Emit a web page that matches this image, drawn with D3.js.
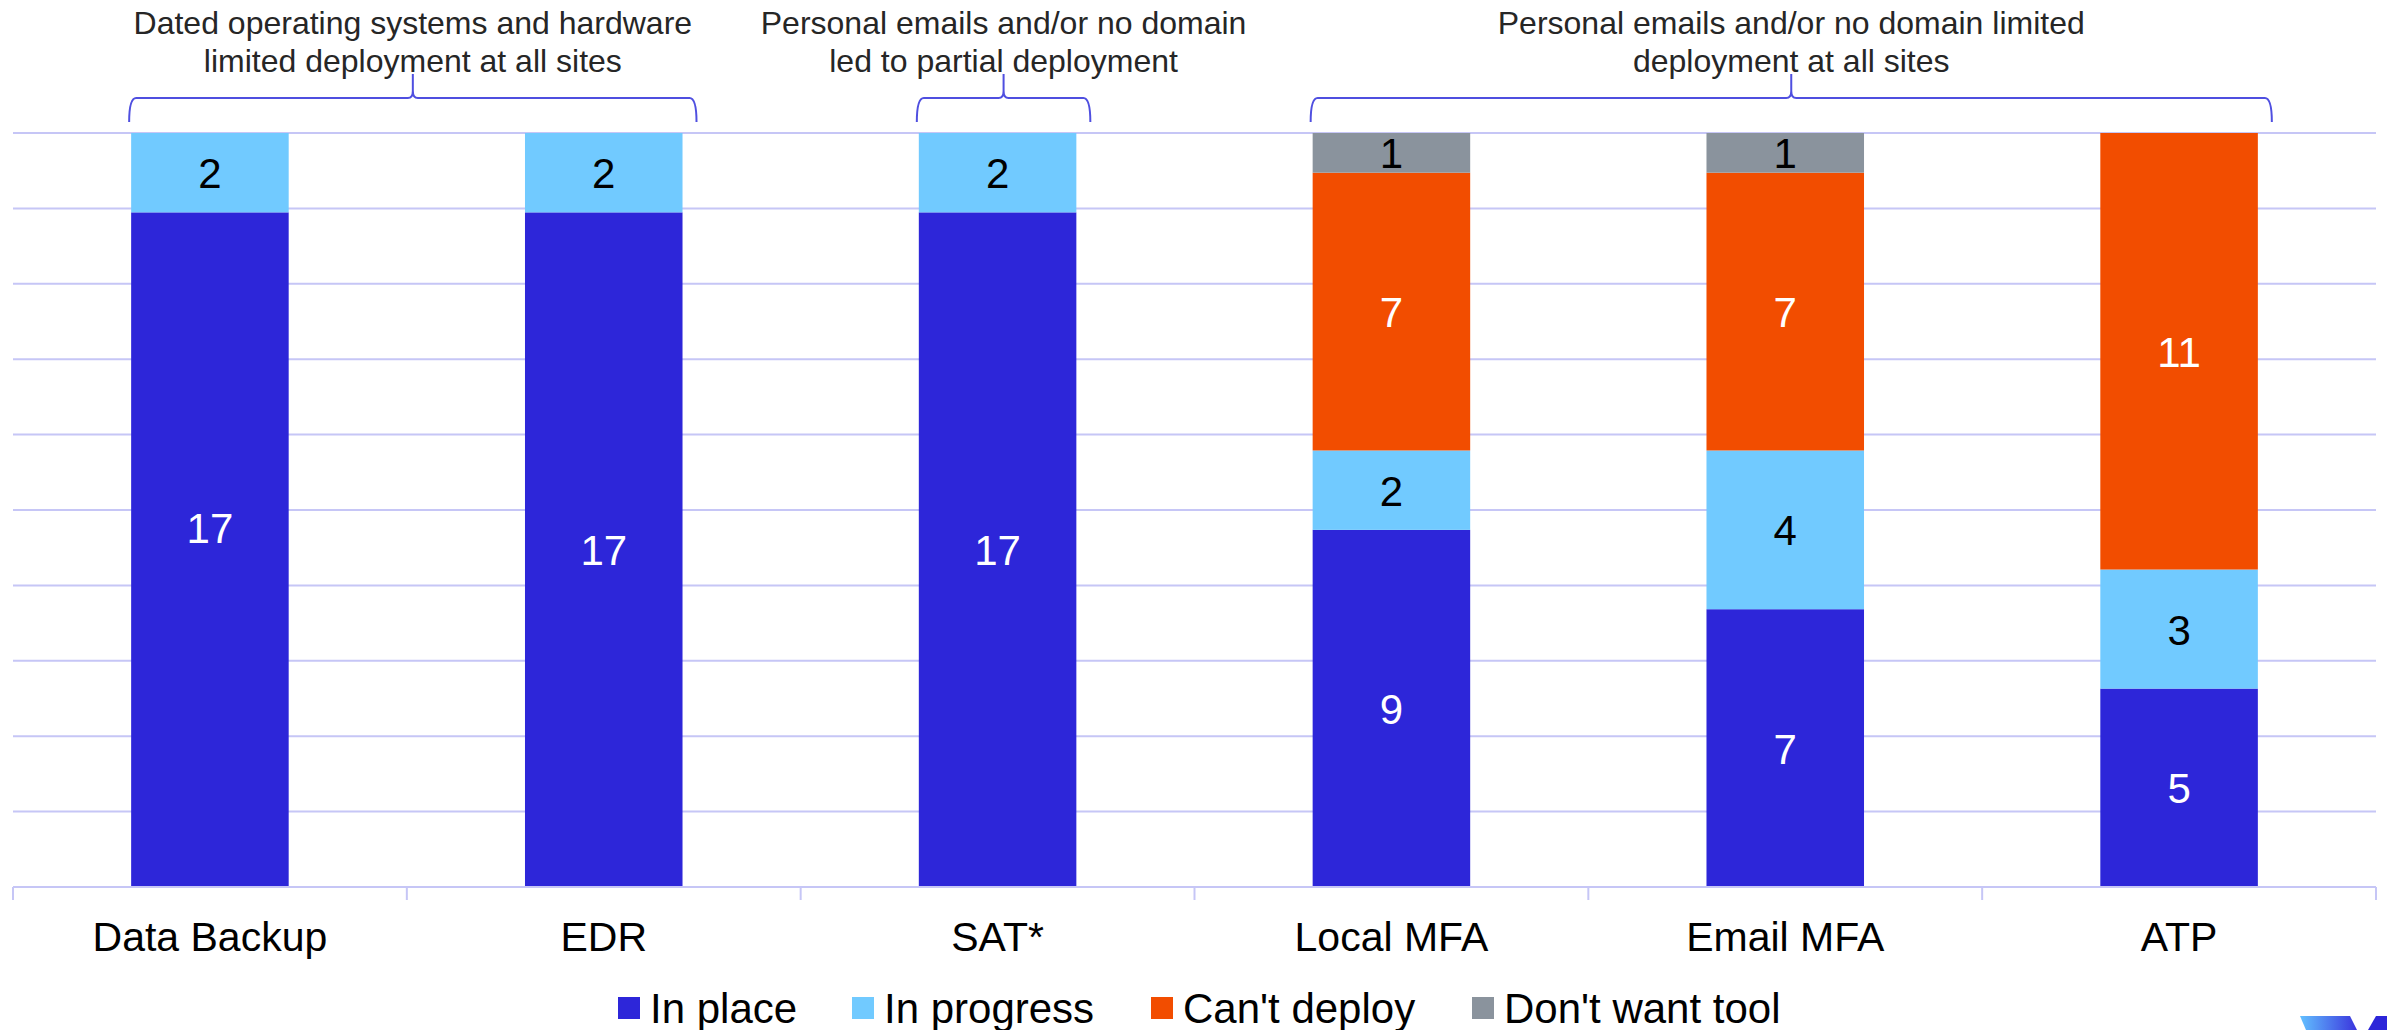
<!DOCTYPE html>
<html>
<head>
<meta charset="utf-8">
<style>
  body { margin: 0; background: #fff; }
  text { font-family: "Liberation Sans", Arial, sans-serif; }
  .grid line { stroke: #c6c6f6; stroke-width: 2px; }
  .note { font-size: 32px; fill: #262626; text-anchor: middle; }
  .cat { font-size: 41px; fill: #000; text-anchor: middle; }
  .val { font-size: 42px; text-anchor: middle; dominant-baseline: central; }
  .leg { font-size: 42px; fill: #000; }
</style>
</head>
<body>
<svg width="2387" height="1030"></svg>
<script src="https://cdn.jsdelivr.net/npm/d3@7"></script>
<script>
// data
var categories = ["Data Backup", "EDR", "SAT*", "Local MFA", "Email MFA", "ATP"];
var series = ["In place", "In progress", "Can't deploy", "Don't want tool"];
var inPlace    = [17, 17, 17, 9, 7, 5];
var inProgress = [2, 2, 2, 2, 4, 3];
var cantDeploy = [0, 0, 0, 7, 7, 11];
var dontWant   = [0, 0, 0, 1, 1, 0];
var colors = ["#2d26d9", "#71caff", "#f24d00", "#8a939d"];
var labelColors = ["#fff", "#000", "#fff", "#000"];

var notes = [
    {from: "Data Backup", to: "EDR", lines: ["Dated operating systems and hardware", "limited deployment at all sites"]},
    {from: "SAT*", to: "SAT*", lines: ["Personal emails and/or no domain", "led to partial deployment"]},
    {from: "Local MFA", to: "ATP", lines: ["Personal emails and/or no domain limited", "deployment at all sites"]}
];

var svg = d3.select("svg"),
    plotL = 13, plotR = 2376, plotT = 133, plotB = 887;

var rows = categories.map(function(c, i) {
    return {cat: c, "In place": inPlace[i], "In progress": inProgress[i],
            "Can't deploy": cantDeploy[i], "Don't want tool": dontWant[i]};
});
var total = d3.max(rows, function(r) { return d3.sum(series, function(s) { return r[s]; }); });

var x = d3.scaleBand().domain(categories).range([plotL, plotR]).paddingInner(0).paddingOuter(0);
var barW = x.bandwidth() * 0.4;
var y = d3.scaleLinear().domain([0, total]).range([plotB, plotT]);

// gridlines, 10 steps
var gridVals = d3.range(1, 11).map(function(i) { return total * i / 10; });
svg.append("g").attr("class", "grid")
    .selectAll("line").data(gridVals).enter().append("line")
    .attr("x1", plotL).attr("x2", plotR)
    .attr("y1", function(d) { return y(d); }).attr("y2", function(d) { return y(d); });

var stack = d3.stack().keys(series)(rows);

stack.forEach(function(s, k) {
    svg.append("g").selectAll("rect").data(s).enter().append("rect")
        .attr("x", function(d) { return x(d.data.cat) + (x.bandwidth() - barW) / 2; })
        .attr("width", barW)
        .attr("y", function(d) { return y(d[1]); })
        .attr("height", function(d) { return y(d[0]) - y(d[1]); })
        .attr("fill", colors[k]);
});

// the first bar's big label sits a bit higher in the original
function nudge(d, k) { return (k === 0 && d.data.cat === "Data Backup") ? -22 : 0; }

stack.forEach(function(s, k) {
    svg.append("g").selectAll("text").data(s.filter(function(d) { return d[1] - d[0] > 0; }))
        .enter().append("text").attr("class", "val")
        .attr("x", function(d) { return x(d.data.cat) + x.bandwidth() / 2; })
        .attr("y", function(d) { return (y(d[0]) + y(d[1])) / 2 + 1 + nudge(d, k); })
        .attr("fill", labelColors[k])
        .text(function(d) { return d[1] - d[0]; });
});

// x axis
var xAxis = svg.append("g").attr("transform", "translate(0," + plotB + ")");
xAxis.append("line").attr("x1", plotL).attr("x2", plotR)
    .attr("stroke", "#c6c6f6").attr("stroke-width", 2);
xAxis.selectAll("line.tick").data(categories.concat([null])).enter().append("line")
    .attr("class", "tick")
    .attr("x1", function(d, i) { return plotL + i * x.bandwidth(); })
    .attr("x2", function(d, i) { return plotL + i * x.bandwidth(); })
    .attr("y1", 0).attr("y2", 13)
    .attr("stroke", "#c6c6f6").attr("stroke-width", 2);
xAxis.selectAll("text").data(categories).enter().append("text")
    .attr("class", "cat")
    .attr("x", function(d) { return x(d) + x.bandwidth() / 2; })
    .attr("y", 64)
    .text(function(d) { return d; });

// braces + notes
var braceY = 98, braceEnd = 122, braceTip = 74;
notes.forEach(function(n) {
    var x0 = x(n.from) + (x.bandwidth() - barW) / 2 - 2,
        x1 = x(n.to) + (x.bandwidth() + barW) / 2 + 14,
        xm = (x0 + x1) / 2;
    var p = "M" + x0 + "," + braceEnd +
        " Q" + x0 + "," + braceY + " " + (x0 + 7) + "," + braceY +
        " H" + (xm - 5) +
        " Q" + xm + "," + braceY + " " + xm + "," + (braceY - 7) +
        " V" + braceTip +
        " M" + xm + "," + (braceY - 7) +
        " Q" + xm + "," + braceY + " " + (xm + 5) + "," + braceY +
        " H" + (x1 - 7) +
        " Q" + x1 + "," + braceY + " " + x1 + "," + braceEnd;
    svg.append("path").attr("d", p).attr("fill", "none")
        .attr("stroke", "#4f4fe0").attr("stroke-width", 2);
    n.lines.forEach(function(l, i) {
        svg.append("text").attr("class", "note")
            .attr("x", xm).attr("y", 34 + i * 38).text(l);
    });
});

// legend
var legX = [618, 852, 1151, 1472];
var leg = svg.append("g").selectAll("g").data(series).enter().append("g")
    .attr("transform", function(d, i) { return "translate(" + legX[i] + ",997)"; });
leg.append("rect").attr("width", 22).attr("height", 22)
    .attr("fill", function(d, i) { return colors[i]; });
leg.append("text").attr("class", "leg").attr("x", 32).attr("y", 26)
    .text(function(d) { return d; });

// corner logo fragment
var defs = svg.append("defs");
var gr = defs.append("linearGradient").attr("id", "lg");
gr.append("stop").attr("offset", "0").attr("stop-color", "#62c0ff");
gr.append("stop").attr("offset", "1").attr("stop-color", "#3a34dd");
svg.append("polygon").attr("points", "2300,1016 2350,1016 2357,1030 2306,1030").attr("fill", "url(#lg)");
svg.append("polygon").attr("points", "2376,1016 2387,1016 2387,1030 2368,1030").attr("fill", "#2d26d9");
</script>
</body>
</html>
